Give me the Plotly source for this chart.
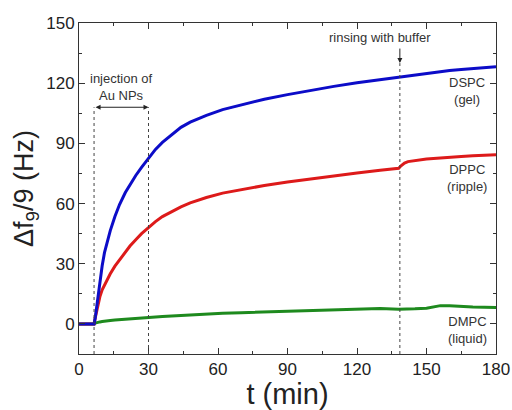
import plotly.graph_objects as go

# ---- data ----
t_min = [0, 3, 6.5, 7, 8, 9, 10, 11, 12, 13.5, 15.5, 17.5, 20, 22, 24.5, 27, 30, 33, 36,
         40, 44, 48, 55, 62, 70, 80, 90, 100, 110, 120, 130, 138, 139, 140.5, 142, 145,
         150, 153, 156, 160, 165, 170, 180]
dspc = [0, 0, 0, 3, 12, 21, 29, 35.5, 40.5, 46.5, 53.5, 59.5, 65.5, 69.5, 74, 78, 82.5,
        87, 90.5, 94.5, 98, 100.6, 104, 106.8, 109.2, 112, 114.3, 116.5, 118.4, 120.2,
        121.8, 123, 123.2, 123.4, 123.7, 124.2, 125, 125.4, 125.8, 126.3, 126.8, 127.3, 128.2]
dppc = [0, 0, 0, 3, 9, 13.5, 17, 19.5, 22, 25, 28.8, 32, 36, 38.8, 42, 45, 48, 51, 53.5,
        56, 58.3, 60.3, 63, 65.2, 67, 69, 70.7, 72.3, 73.8, 75.2, 76.6, 77.6, 78.8, 80.2,
        80.9, 81.5, 82.2, 82.5, 82.8, 83.1, 83.5, 83.8, 84.3]
dmpc = [0, 0, 0, 0.4, 0.8, 1.0, 1.2, 1.4, 1.5, 1.7, 1.9, 2.1, 2.4, 2.6, 2.8, 3.0, 3.3,
        3.5, 3.7, 4.0, 4.3, 4.5, 4.9, 5.3, 5.6, 6.0, 6.4, 6.8, 7.1, 7.4, 7.7, 7.3, 7.3,
        7.3, 7.4, 7.5, 7.8, 8.4, 9.1, 9.0, 8.7, 8.4, 8.2]

series_names = ["DMPC", "DPPC", "DSPC"]
series_labels = ["DMPC<br>(liquid)", "DPPC<br>(ripple)", "DSPC<br>(gel)"]
label_y = [-3, 72.5, 116]
series_colors = ["#1e8a1e", "#dd1a1a", "#0c0cc8"]

injection_start = 6.5
injection_end = 30
rinse_time = 138.5

x_ticks = [0, 30, 60, 90, 120, 150, 180]
y_ticks = [0, 30, 60, 90, 120, 150]

FONT = "Liberation Sans, Arial, sans-serif"
TXT = "#333333"

fig = go.Figure()
for name, ys, col in zip(series_names, [dmpc, dppc, dspc], series_colors):
    fig.add_trace(go.Scatter(x=t_min, y=ys, mode="lines", name=name,
                             line=dict(color=col, width=3),
                             showlegend=False))

# dotted event lines
for xv, ytop in [(injection_start, 108), (injection_end, 108), (rinse_time, 130)]:
    fig.add_shape(type="line", x0=xv, x1=xv, y0=-15, y1=ytop, xref="x", yref="y",
                  line=dict(color="#444444", width=1, dash="dot"))

# double arrow for injection
fig.add_annotation(x=injection_end, y=108, ax=injection_start, ay=108,
                   xref="x", yref="y", axref="x", ayref="y", text="",
                   showarrow=True, arrowhead=2, startarrowhead=2, arrowside="end+start",
                   arrowsize=1, arrowwidth=1, arrowcolor="#222222")
fig.add_annotation(x=(injection_start + injection_end) / 2, y=118, text="injection of<br>Au NPs",
                   showarrow=False, font=dict(family=FONT, size=13, color=TXT), align="center")

# rinsing arrow
fig.add_annotation(x=rinse_time, y=130, ax=rinse_time, ay=138, xref="x", yref="y",
                   axref="x", ayref="y", text="", showarrow=True, arrowhead=2,
                   arrowsize=1, arrowwidth=1, arrowcolor="#222222")
fig.add_annotation(x=130, y=143, text="rinsing with buffer", showarrow=False,
                   font=dict(family=FONT, size=13, color=TXT))

for lab, yv in zip(series_labels, label_y):
    fig.add_annotation(x=167.5, y=yv, text=lab, showarrow=False, align="center",
                       font=dict(family=FONT, size=13, color=TXT))

axis_common = dict(showline=True, linecolor="#333333", linewidth=1, mirror="allticks",
                   ticks="inside", ticklen=6, tickwidth=1, tickcolor="#333333",
                   showgrid=False, zeroline=False, automargin=False,
                   tickfont=dict(family=FONT, size=17, color="#222222"),
                   minor=dict(ticks="inside", ticklen=3, tickwidth=1, tickcolor="#333333"))

fig.update_xaxes(range=[0, 180], tickvals=x_ticks, minor_dtick=15,
                 title=dict(text="t (min)", font=dict(family=FONT, size=29, color="#222222"),
                            standoff=1),
                 **axis_common)
fig.update_yaxes(range=[-15, 150], tickvals=y_ticks, minor_dtick=15,
                 title=dict(text="Δf<sub>9</sub>/9 (Hz)",
                            font=dict(family=FONT, size=27, color="#222222"), standoff=4),
                 **axis_common)

fig.update_layout(width=512, height=410, margin=dict(l=79, r=16, t=23, b=56),
                  plot_bgcolor="white", paper_bgcolor="white",
                  font=dict(family=FONT))

fig.write_html("out.html", config={"displayModeBar": False},
               post_script="document.body.style.margin='0px';document.body.style.padding='0px';")
